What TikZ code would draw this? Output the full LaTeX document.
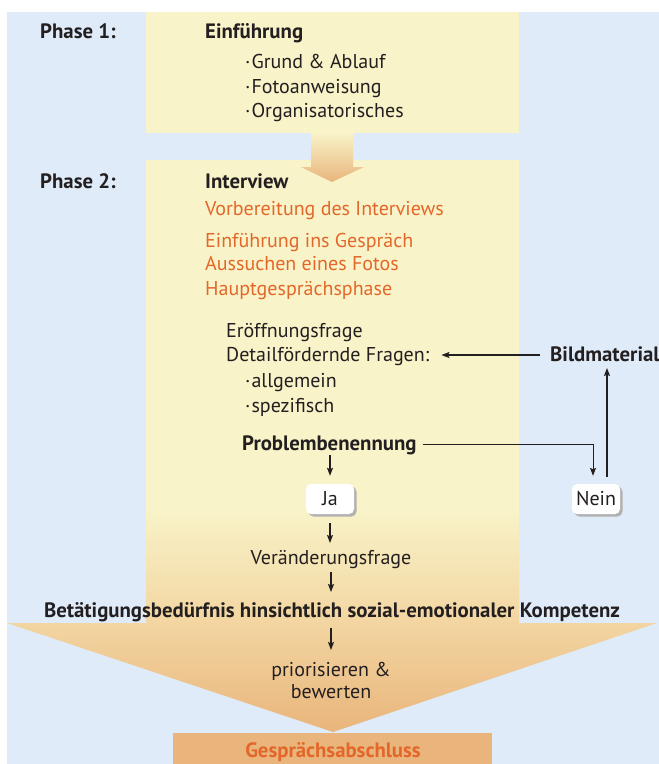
\documentclass[tikz,border=0pt]{standalone}
\usepackage{fontspec}
\setmainfont{PT Sans}
\usetikzlibrary{arrows.meta,shadows}
\definecolor{bgblue}{HTML}{DFEBF8}
\definecolor{yel}{HTML}{F8F3C8}
\definecolor{midor}{HTML}{F3D6A2}
\definecolor{boxor}{HTML}{E9B57C}
\definecolor{ortext}{HTML}{E4672A}
\definecolor{dark}{HTML}{231F20}
\pgfdeclareverticalshading{bigshade}{100bp}{color(0bp)=(boxor); color(25bp)=(boxor); color(34.8bp)=(midor); color(44.4bp)=(yel); color(75bp)=(yel); color(100bp)=(yel)}
\tikzset{
  txt/.style={inner sep=0pt, anchor=base west, text=dark, font=\fontsize{20}{24}\selectfont},
  ctxt/.style={txt, anchor=base},
  bold/.style={font=\fontsize{20.8}{24}\selectfont\bfseries},
  otxt/.style={txt, text=ortext},
  jn/.style={draw=none, fill=white, rounded corners=5pt, minimum width=48pt, minimum height=30pt, inner sep=0pt,
     text=dark, font=\fontsize{20}{24}\selectfont,
     drop shadow={shadow xshift=2.5pt, shadow yshift=-2.5pt, fill=black!30, opacity=1}},
  arr/.style={draw=dark, line width=1.4pt, -{Stealth[length=8pt,width=6pt,inset=1.5pt]}},
  thinarr/.style={draw=dark, line width=0.9pt, -{Stealth[length=8pt,width=6pt,inset=1.5pt]}},
}
\begin{document}
\begin{tikzpicture}[x=1pt,y=-1pt]
\useasboundingbox (0,0) rectangle (659,764);
\fill[white] (0,0) rectangle (659,764);
\fill[bgblue] (7,12) rectangle (659,764);
% phase 1 box
\fill[yel] (146,12) rectangle (519,133);
% phase 2 box and big arrow
\shade[shading=bigshade] (146,160) -- (519,160) -- (519,623) -- (657,623) -- (333,732) -- (7,623) -- (146,623) -- cycle;
% small arrow
\shade[top color=yel, bottom color=boxor] (311,133) -- (353,133) -- (353,167) -- (364,167) -- (332,182) -- (301,167) -- (311,167) -- cycle;
% final box
\fill[boxor] (173,733) rectangle (492,764);

\node[txt,bold] (ph1) at (40,38) {Phase 1:};
\node[txt,bold] (einf) at (205,38) {Einführung};
\node[txt] (b1) at (245,68) {·\kern1pt Grund \& Ablauf};
\node[txt] (b2) at (245,93) {·\kern1pt Fotoanweisung};
\node[txt] (b3) at (245,117) {·\kern1pt Organisatorisches};

\node[txt,bold] (ph2) at (40,188) {Phase 2:};
\node[txt,bold] (intv) at (205,188) {Interview};
\node[otxt] (vorb) at (205,215) {Vorbereitung des Interviews};
\node[otxt] (einfg) at (205,247) {Einführung ins Gespräch};
\node[otxt] (auss) at (205,270) {Aussuchen eines Fotos};
\node[otxt] (haupt) at (205,295) {Hauptgesprächsphase};

\node[txt] (eroff) at (226,337) {Eröffnungsfrage};
\node[txt] (detail) at (226,361) {Detailfördernde Fragen:};
\node[txt] (allg) at (245,387) {·\kern1pt allgemein};
\node[txt] (spez) at (245,412) {·\kern1pt spezifisch};
\node[txt,bold] (probl) at (242,450) {Problembenennung};
\node[txt,bold] (bild) at (550,361) {Bildmaterial};

\node[jn] (ja) at (330,499) {Ja};
\node[jn] (nein) at (596,499) {Nein};

\node[ctxt] (ver) at (331,564) {Veränderungsfrage};
\node[ctxt,bold] (bet) at (332,617) {Betätigungsbedürfnis hinsichtlich sozial-emotionaler Kompetenz};
\node[ctxt] (prior) at (331,676) {priorisieren \&};
\node[ctxt] (bew) at (331,698) {bewerten};
\node[ctxt,bold,text=ortext] (absch) at (333,757) {Gesprächsabschluss};

% connectors
\draw[arr] ([xshift=-10pt,yshift=6pt]bild.base west) -- ([xshift=12pt,yshift=6pt]detail.base east);
\draw[thinarr] ([xshift=6pt,yshift=6pt]probl.base east) -| ([xshift=-3pt,yshift=8pt]nein.north);
\draw[arr] ([xshift=11pt,yshift=7pt]nein.north) -- ([xshift=11pt,yshift=-7pt]nein.north |- bild.base);
\draw[arr] ([yshift=-5pt]ja.north |- probl.base) -- ([yshift=8pt]ja.north);
\draw[arr] ([yshift=-9pt]ja.south) -- ([yshift=21pt]ja.south |- ver.base);
\draw[arr] ([yshift=-8pt]ver.base) -- ([yshift=25pt]ver.base |- bet.base);
\draw[arr] ([yshift=-11pt]prior.base |- bet.base) -- ([yshift=26pt]prior.base);
\end{tikzpicture}
\end{document}
